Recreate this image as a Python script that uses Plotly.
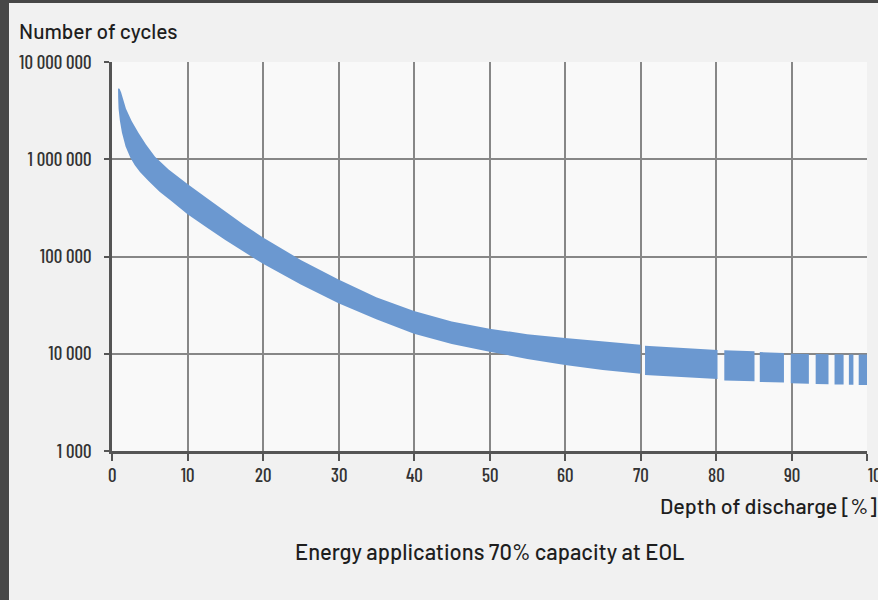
import plotly.graph_objects as go

# ---------------- data ----------------
upper_x = [0.8, 1.0, 1.2, 1.5, 1.85, 2.6, 3.5, 4.5, 5.7, 7.5, 10, 12.5, 15, 17.5, 20,
           25, 30, 35, 40, 45, 50, 55, 60, 65, 70]
upper_y = [5.35e6, 5.32e6, 4.89e6, 4.03e6, 3.30e6, 2.48e6, 1.87e6, 1.42e6, 1.06e6, 785e3,
           556e3, 403e3, 292e3, 211e3, 157e3, 92.2e3, 58e3, 38.1e3, 27.5e3, 21.5e3,
           18.1e3, 15.9e3, 14.5e3, 13.3e3, 12.4e3]
lower_x = [0.8, 0.82, 0.87, 1.05, 1.32, 1.8, 2.42, 3.0, 3.7, 4.84, 6.3, 7.94, 10, 12.5, 15,
           17.5, 20, 25, 30, 35, 40, 45, 50, 55, 60, 65, 70]
lower_y = [5.35e6, 4.23e6, 3.30e6, 2.48e6, 1.87e6, 1.35e6, 1.04e6, 871e3, 741e3, 596e3,
           462e3, 367e3, 272e3, 200e3, 148e3, 111e3, 84e3, 51.5e3, 33.1e3, 22.6e3, 16.1e3,
           12.6e3, 10.5e3, 8.85e3, 7.66e3, 6.81e3, 6.22e3]

# broken tail of the band (start / end of each piece)
tail_x0 = [70.6, 81.1, 85.8, 89.9, 93.2, 95.7, 97.6, 98.9]
tail_x1 = [80.2, 85.1, 89.0, 92.3, 94.9, 96.9, 98.2, 100]
tail_up0 = [12.1e3, 10.85e3, 10.4e3, 10.0e3, 9.95e3, 9.9e3, 9.85e3, 9.8e3]
tail_up1 = [10.9e3, 10.6e3, 10.2e3, 9.95e3, 9.9e3, 9.85e3, 9.8e3, 9.8e3]
tail_lo0 = [6.03e3, 5.30e3, 5.13e3, 4.98e3, 4.88e3, 4.84e3, 4.80e3, 4.78e3]
tail_lo1 = [5.51e3, 5.22e3, 5.05e3, 4.92e3, 4.85e3, 4.82e3, 4.79e3, 4.76e3]

x_ticks = [0, 10, 20, 30, 40, 50, 60, 70, 80, 90, 100]
y_ticks = [1e3, 1e4, 1e5, 1e6, 1e7]
y_ticktext = ["1 000", "10 000", "100 000", "1 000 000", "10 000 000"]

y_title = "Number of cycles"
x_title = "Depth of discharge [%]"
caption = "Energy applications 70% capacity at EOL"

# ---------------- layout constants ----------------
W, H = 878, 600
L, R, T, B = 112, 11, 62, 149
PW, PH = W - L - R, H - T - B
BAND = "#6b98d0"
NUMFONT = "Barlow Condensed Medium, Barlow Condensed, Roboto Condensed, sans-serif"
TXTFONT = "Barlow Medium, Barlow, Noto Sans, sans-serif"


def px_x(px):
    return (px - L) / PW


def px_y(py):
    return 1 - (py - T) / PH


fig = go.Figure()

# main continuous part of the band
fig.add_trace(go.Scatter(
    x=upper_x + lower_x[::-1],
    y=upper_y + lower_y[::-1],
    fill="toself", fillcolor=BAND, mode="lines",
    line=dict(width=0, color=BAND),
    hoverinfo="skip", showlegend=False))

# broken tail pieces
for x0, x1, u0, u1, l0, l1 in zip(tail_x0, tail_x1, tail_up0, tail_up1, tail_lo0, tail_lo1):
    fig.add_trace(go.Scatter(
        x=[x0, x1, x1, x0], y=[u0, u1, l1, l0],
        fill="toself", fillcolor=BAND, mode="lines",
        line=dict(width=0, color=BAND), hoverinfo="skip", showlegend=False))

fig.update_xaxes(
    range=[0, 100], tickvals=x_ticks, showticklabels=False,
    showgrid=True, gridcolor="#878787", gridwidth=1.5, zeroline=False,
    showline=True, linecolor="#555555", linewidth=2.5,
    ticks="outside", ticklen=7, tickwidth=1.5, tickcolor="#555555")
fig.update_yaxes(
    type="log", range=[3, 7], tickvals=y_ticks, ticktext=y_ticktext,
    showgrid=True, gridcolor="#878787", gridwidth=1.5, zeroline=False,
    showline=True, linecolor="#555555", linewidth=2.5,
    ticks="outside", ticklen=5, tickwidth=1.5, tickcolor="#555555",
    ticklabelstandoff=9,
    tickfont=dict(family=NUMFONT, size=19, color="#333333"))

annotations = [
    dict(text=y_title, x=px_x(17), y=px_y(30), xanchor="left", yanchor="middle",
         font=dict(family=TXTFONT, size=21, color="#1e1e1e")),
    dict(text=x_title, x=px_x(658), y=px_y(505), xanchor="left", yanchor="middle",
         font=dict(family=TXTFONT, size=21.5, color="#1e1e1e")),
    dict(text=caption, x=px_x(490), y=px_y(551), xanchor="center", yanchor="middle",
         font=dict(family=TXTFONT, size=22, color="#1e1e1e")),
]
for a in annotations:
    a.update(xref="paper", yref="paper", showarrow=False)

# x tick labels (as annotations so that the last one may run off the edge like the original)
for v in x_ticks:
    last = v == x_ticks[-1]
    annotations.append(dict(text=str(v), x=v, xref="x", y=px_y(474), yref="paper",
                            xanchor="left" if last else "center", xshift=-1 if last else 0,
                            yanchor="middle", showarrow=False,
                            font=dict(family=NUMFONT, size=19, color="#333333")))

shapes = [
    # dark frame strips at the left and top edges of the picture
    dict(type="rect", xref="paper", yref="paper", x0=px_x(0), x1=px_x(9),
         y0=px_y(H), y1=px_y(0), fillcolor="#474747", line=dict(width=0), layer="above"),
    dict(type="rect", xref="paper", yref="paper", x0=px_x(0), x1=px_x(W),
         y0=px_y(3), y1=px_y(0), fillcolor="#474747", line=dict(width=0), layer="above"),
]

fig.update_layout(
    width=W, height=H, margin=dict(l=L, r=R, t=T, b=B, autoexpand=False),
    paper_bgcolor="#f1f1f1", plot_bgcolor="#f9f9f9",
    annotations=annotations, shapes=shapes, showlegend=False)

fig.write_html("out.html", config={"displayModeBar": False},
               post_script="document.body.style.margin='0';document.body.style.overflow='hidden';")
